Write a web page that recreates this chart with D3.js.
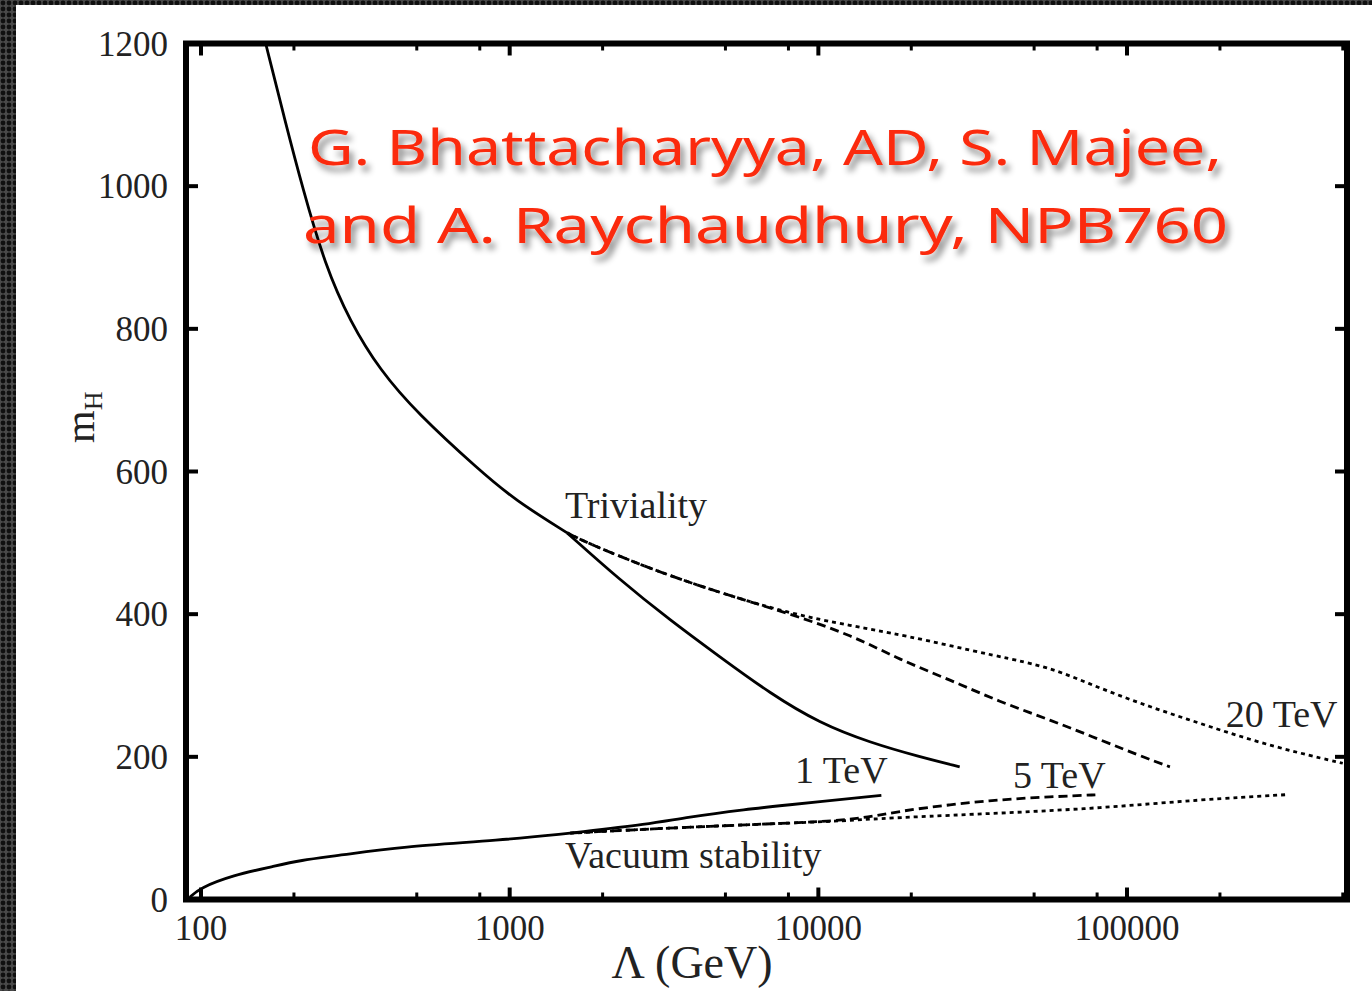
<!DOCTYPE html>
<html>
<head>
<meta charset="utf-8">
<script src="https://cdn.jsdelivr.net/npm/d3@7"></script>
<style>
  body { margin: 0; background: #fff; }
  svg { display: block; }
</style>
</head>
<body>
<svg width="1372" height="991"></svg>
<script>
const width = 1372, height = 991;
const svg = d3.select("svg");

// --- data: [Lambda (GeV), m_H] ---
const trivCommon = [[162, 1200], [186, 1096], [214, 995], [252, 890], [304, 810],
  [380, 742], [501, 682], [801, 601], [1040, 560], [1535, 514]];
const triv1TeV = [[1535, 514], [2275, 448], [3300, 392], [4800, 340], [6970, 289],
  [10100, 247], [14700, 220], [21300, 200], [28700, 186]];
const triv5TeV = [[1535, 514], [1780, 500], [2910, 462], [4800, 430], [7900, 402],
  [12940, 370], [18350, 336], [26700, 308], [38700, 277], [56200, 252], [81700, 224],
  [118600, 196], [137700, 186]];
const triv20TeV = [[1535, 514], [1780, 500], [2910, 462], [4800, 430], [7900, 402],
  [12940, 383], [18350, 372], [38700, 340], [56200, 326], [81700, 296], [118600, 270],
  [172000, 247], [250000, 224], [363000, 205], [500000, 191]];

const vacCommon = [[92, 3], [99, 16], [127, 34], [170, 46], [209, 55], [284, 62],
  [441, 74], [937, 83], [1570, 93]];
const vac1TeV = [[1570, 93], [2850, 106], [3700, 115], [6000, 127], [7350, 131], [16000, 146]];
const vac5TeV = [[1570, 93], [2850, 99], [6000, 105], [10400, 109], [14000, 114],
  [18400, 124], [26700, 133], [38700, 140], [56200, 144], [81700, 147]];
const vac20TeV = [[1570, 93], [2850, 99], [6000, 105], [10400, 109], [14000, 112],
  [18400, 115], [38700, 121], [81700, 128], [172000, 140], [330000, 147]];

const xMajor = [100, 1000, 10000, 100000];
const xMinor = [200, 500, 800, 2000, 5000, 8000, 20000, 50000, 80000, 200000, 500000];
const yTicks = [0, 200, 400, 600, 800, 1000, 1200];

const curveLabels = [
  { text: "Triviality", x: 1510, y: 535 },
  { text: "1 TeV", x: 8400, y: 164 },
  { text: "5 TeV", x: 42700, y: 157 },
  { text: "20 TeV", x: 209000, y: 242 },
  { text: "Vacuum stability", x: 1510, y: 44 }
];
const citation = ["G. Bhattacharyya, AD, S. Majee,", "and A. Raychaudhury, NPB760"];

// --- scales ---
const x = d3.scaleLog().domain([89.4, 516000]).range([186, 1347]);
const y = d3.scaleLinear().domain([0, 1200]).range([899.5, 43.5]);

// --- textured dark border (left and top) ---
const defs = svg.append("defs");
const pat = defs.append("pattern")
  .attr("id", "dots").attr("width", 6).attr("height", 6)
  .attr("patternUnits", "userSpaceOnUse");
pat.append("rect").attr("width", 6).attr("height", 6).attr("fill", "#4a4a4a");
pat.append("circle").attr("cx", 3).attr("cy", 3).attr("r", 2.4).attr("fill", "#101010");

const shadow = defs.append("filter").attr("id", "shadow")
  .attr("x", "-10%").attr("y", "-30%").attr("width", "120%").attr("height", "160%");
shadow.append("feDropShadow")
  .attr("dx", 4).attr("dy", 6).attr("stdDeviation", 3)
  .attr("flood-color", "#000").attr("flood-opacity", 0.45);

svg.append("rect").attr("width", width).attr("height", height).attr("fill", "url(#dots)");
svg.append("rect").attr("x", 16).attr("y", 5)
  .attr("width", width - 16).attr("height", height - 5).attr("fill", "#fff");

// --- ticks (inside, all four sides) ---
const g = svg.append("g");
const [x0, x1] = x.range();
const [yb, yt] = y.range();

function xTicks(vals, len, w) {
  g.selectAll(null).data(vals).enter().append("line")
    .attr("x1", d => x(d)).attr("x2", d => x(d))
    .attr("y1", yb).attr("y2", yb - len)
    .attr("stroke", "#000").attr("stroke-width", w);
  g.selectAll(null).data(vals).enter().append("line")
    .attr("x1", d => x(d)).attr("x2", d => x(d))
    .attr("y1", yt).attr("y2", yt + len)
    .attr("stroke", "#000").attr("stroke-width", w);
}
xTicks(xMajor, 12, 4);
xTicks(xMinor, 7, 3);

g.selectAll(null).data(yTicks).enter().append("line")
  .attr("x1", x0).attr("x2", x0 + 12)
  .attr("y1", d => y(d)).attr("y2", d => y(d))
  .attr("stroke", "#000").attr("stroke-width", 4);
g.selectAll(null).data(yTicks).enter().append("line")
  .attr("x1", x1).attr("x2", x1 - 12)
  .attr("y1", d => y(d)).attr("y2", d => y(d))
  .attr("stroke", "#000").attr("stroke-width", 4);

// --- curves ---
const line = d3.line()
  .x(d => x(d[0])).y(d => y(d[1]))
  .curve(d3.curveBasis);

const series = [
  { data: trivCommon, dash: null },
  { data: triv1TeV, dash: null },
  { data: triv5TeV, dash: "9,5" },
  { data: triv20TeV, dash: "4,4" },
  { data: vacCommon, dash: null },
  { data: vac1TeV, dash: null },
  { data: vac5TeV, dash: "9,5" },
  { data: vac20TeV, dash: "4,4" }
];

g.selectAll("path.curve")
  .data(series)
  .enter()
  .append("path")
  .attr("class", "curve")
  .attr("d", d => line(d.data))
  .attr("fill", "none")
  .attr("stroke", "#000")
  .attr("stroke-width", 2.8)
  .attr("stroke-dasharray", d => d.dash);

// --- frame ---
g.append("rect")
  .attr("x", x0).attr("y", yt)
  .attr("width", x1 - x0).attr("height", yb - yt)
  .attr("fill", "none").attr("stroke", "#000").attr("stroke-width", 6);

// --- tick labels ---
const serif = "'Liberation Serif', 'DejaVu Serif', serif";

g.selectAll(null).data(yTicks).enter().append("text")
  .attr("x", 168).attr("y", d => y(d))
  .attr("dy", "0.35em")
  .attr("text-anchor", "end")
  .attr("font-family", serif).attr("font-size", 35)
  .attr("fill", "#222")
  .text(d => d);

g.selectAll(null).data(xMajor).enter().append("text")
  .attr("x", d => x(d)).attr("y", 940)
  .attr("text-anchor", "middle")
  .attr("font-family", serif).attr("font-size", 35)
  .attr("fill", "#222")
  .text(d => d);

// --- axis titles ---
svg.append("text")
  .attr("x", 692).attr("y", 978)
  .attr("text-anchor", "middle")
  .attr("font-family", serif).attr("font-size", 46)
  .attr("fill", "#222")
  .text("\u039B (GeV)");

const yTitle = svg.append("text")
  .attr("transform", "translate(94,443) rotate(-90)")
  .attr("font-family", serif).attr("font-size", 42)
  .attr("fill", "#222");
yTitle.append("tspan").text("m");
yTitle.append("tspan").attr("font-size", 26).attr("dy", 8).text("H");

// --- curve labels ---
g.selectAll(null).data(curveLabels).enter().append("text")
  .attr("x", d => x(d.x)).attr("y", d => y(d.y))
  .attr("font-family", serif).attr("font-size", 38)
  .attr("fill", "#222")
  .text(d => d.text);

// --- red citation overlay ---
const cite = svg.append("g").attr("filter", "url(#shadow)");
cite.selectAll("text")
  .data(citation)
  .enter()
  .append("text")
  .attr("x", (d, i) => i === 0 ? 308 : 303)
  .attr("y", (d, i) => i === 0 ? 165 : 243)
  .attr("textLength", (d, i) => i === 0 ? 914 : 925)
  .attr("lengthAdjust", "spacingAndGlyphs")
  .attr("font-family", "'Comic Sans MS', 'Noto Sans', 'DejaVu Sans', sans-serif")
  .attr("font-size", 50)
  .attr("fill", "#fb2a0a")
  .text(d => d);
</script>
</body>
</html>
